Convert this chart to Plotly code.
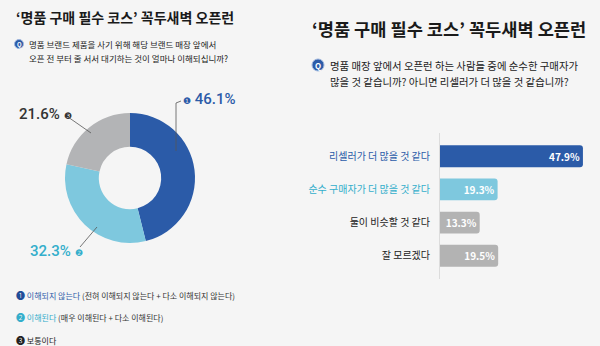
import plotly.graph_objects as go

W, H = 600, 346
FONT = "Noto Sans CJK KR"
BG = "#f5f5f5"

# ---- data ----
title_text = "‘명품 구매 필수 코스’ 꼭두새벽 오픈런"
q1_lines = ["명품 브랜드 제품을 사기 위해 해당 브랜드 매장 앞에서",
            "오픈 전 부터 줄 서서 대기하는 것이 얼마나 이해되십니까?"]
q2_lines = ["명품 매장 앞에서 오픈런 하는 사람들 중에 순수한 구매자가",
            "많을 것 같습니까? 아니면 리셀러가 더 많을 것 같습니까?"]

pie_labels = ["이해되지 않는다", "이해된다", "보통이다"]
pie_values = [46.1, 32.3, 21.6]
pie_colors = ["#2b5ba8", "#7ec8de", "#b3b4b6"]
pie_text_colors = ["#2b5ba8", "#33aecb", "#333333"]
pie_marks = ["❶", "❷", "❸"]

legend_main = ["이해되지 않는다", "이해된다", "보통이다"]
legend_detail = ["(전혀 이해되지 않는다 + 다소 이해되지 않는다)",
                 "(매우 이해된다 + 다소 이해된다)", ""]

bar_labels = ["리셀러가 더 많을 것 같다", "순수 구매자가 더 많을 것 같다",
              "둘이 비슷할 것 같다", "잘 모르겠다"]
bar_values = [47.9, 19.3, 13.3, 19.5]
bar_colors = ["#2b5ba8", "#7ec8de", "#b3b3b3", "#b3b3b3"]
bar_label_colors = ["#2b5ba8", "#33aecb", "#222222", "#222222"]


def px(x):
    return x / W


def py(y):
    return 1 - y / H


fig = go.Figure()

# donut
fig.add_trace(go.Pie(
    labels=pie_labels, values=pie_values, sort=False, direction="clockwise",
    rotation=0, hole=0.48, marker=dict(colors=pie_colors, line=dict(width=0)),
    textinfo="none", hoverinfo="label+percent", showlegend=False,
    domain=dict(x=[px(65), px(195)], y=[py(243), py(113)]),
))

# bars
fig.add_trace(go.Bar(
    x=bar_values, y=list(range(len(bar_labels))), orientation="h",
    marker=dict(color=bar_colors, line=dict(width=0)),
    text=[f"{v:.1f}%" for v in bar_values], textposition="inside",
    insidetextanchor="end", textangle=0,
    textfont=dict(family=FONT, size=10, color="white", weight="bold"),
    xaxis="x", yaxis="y", showlegend=False, cliponaxis=False,
))

fig.update_layout(
    width=W, height=H, margin=dict(l=0, r=0, t=0, b=0),
    paper_bgcolor=BG, plot_bgcolor=BG,
    font=dict(family=FONT, color="#222"),
    barcornerradius=3, bargap=0.34,
    xaxis=dict(domain=[px(440), px(588)], range=[0, 49.6], visible=False,
               fixedrange=True),
    yaxis=dict(domain=[py(279), py(133)], range=[3.7, -0.7],
               tickmode="array", tickvals=list(range(len(bar_labels))),
               ticktext=[f"<span style='color:{c}'>{t}</span>"
                         for t, c in zip(bar_labels, bar_label_colors)],
               ticks="outside", ticklen=7, tickcolor="rgba(0,0,0,0)",
               tickfont=dict(family=FONT, size=10),
               showline=True, linecolor="#dcdcdc", linewidth=1,
               showgrid=False, zeroline=False, fixedrange=True),
)

ann = []
shapes = []


def add_text(x, y, text, size, color="#222", anchor="left", family=FONT,
             weight="normal"):
    ann.append(dict(x=px(x), y=py(y), xref="paper", yref="paper", text=text,
                    showarrow=False, xanchor=anchor, yanchor="middle",
                    font=dict(family=family, size=size, color=color,
                              weight=weight)))


# titles
add_text(14, 17, f"<b>{title_text}</b>", 14, "#1a1a1a")
add_text(310, 29, f"<b>{title_text}</b>", 17.6, "#1a1a1a")


def q_icon(cx, cy, r, size):
    shapes.append(dict(type="circle", xref="paper", yref="paper",
                       x0=px(cx - r), x1=px(cx + r), y0=py(cy + r), y1=py(cy - r),
                       fillcolor="#2b5ba8", line=dict(width=1, color="#9fb6dd")))
    add_text(cx, cy, "<b>Q</b>", size, "white", anchor="center")


# questions
q_icon(19, 44, 4.5, 6)
for i, line in enumerate(q1_lines):
    add_text(27, 44 + 14 * i, line, 8.5)
q_icon(318, 65, 6, 8)
for i, line in enumerate(q2_lines):
    add_text(328, 65 + 16 * i, line, 10.4)

# donut labels
lab_pos = [(181, 99, "left"), (85, 251, "right"), (74, 114, "right")]
mark_colors = ["#2b5ba8", "#33aecb", "#333333"]
for (x, y, side), v, mc, m, tc in zip(lab_pos, pie_values, mark_colors,
                                      pie_marks, pie_text_colors):
    mark = f"<span style='font-size:9px;color:{mc}'>{m}</span>"
    num = f"<span style='font-size:15px;color:{tc}'>{v:.1f}%</span>"
    txt = mark + " " + num if side == "left" else num + " " + mark
    add_text(x, y, txt, 15, tc, anchor=side if side == "left" else "right",
             family="Roboto", weight=500)

lines = [[(181, 101), (176, 103), (176, 151)],
         [(80, 247), (97, 227)],
         [(68, 117), (91, 133)]]
for pts in lines:
    path = "M " + " L ".join(f"{px(x)},{py(y)}" for x, y in pts)
    shapes.append(dict(type="path", xref="paper", yref="paper", path=path,
                       line=dict(color="#555", width=0.8)))

# legend text
leg_colors = ["#2b5ba8", "#33aecb", "#222"]
for i, (m, d) in enumerate(zip(legend_main, legend_detail)):
    mc = ["#1f4e98", "#33aecb", "#222"][i]
    t = (f"<span style='color:{mc};font-size:9px'>{pie_marks[i]}</span> "
         f"<span style='color:{leg_colors[i]}'>{m}</span> "
         f"<span style='color:#333'>{d}</span>")
    add_text(14, 295 + 22.5 * i, t, 8)

fig.update_layout(annotations=ann, shapes=shapes)
fig.write_html("out.html")
